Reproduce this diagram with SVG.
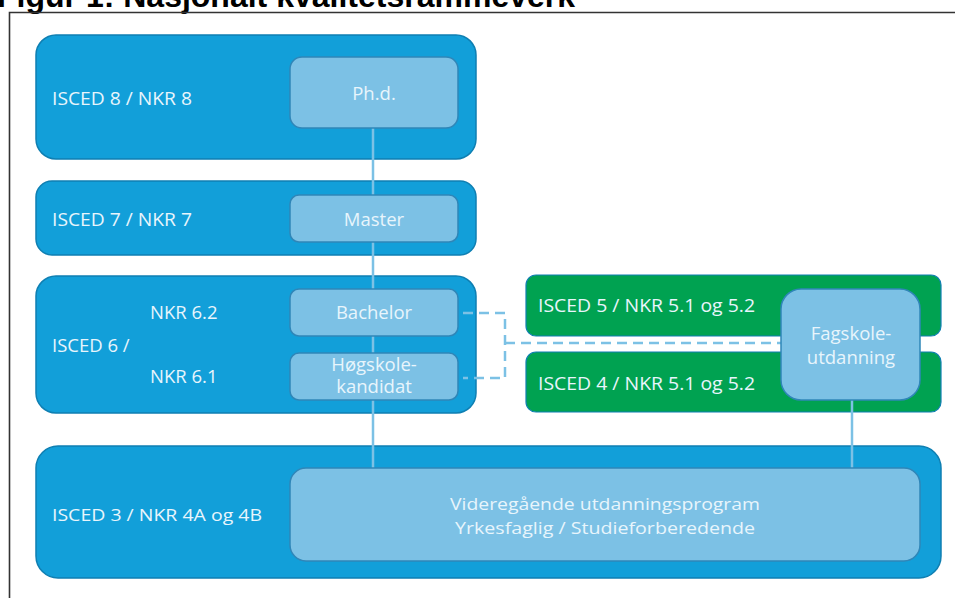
<svg xmlns="http://www.w3.org/2000/svg" width="955" height="598" viewBox="0 0 955 598">
<style>
.outer{fill:#129FD9;stroke:#0F7FB2;stroke-width:1.5}
.green{fill:#00A251;stroke:#0F7FB2;stroke-width:1.2}
.inner{fill:#7CC1E5;stroke:#2F86B8;stroke-width:1.5}
.t{font-family:"Open Sans","Liberation Sans",sans-serif;font-size:18.5px;fill:#E8F5FC}
.s{font-size:17px}
.c{text-anchor:middle}
.conn{stroke:#7CC1E5;stroke-width:2.5;fill:none}
.dash{stroke:#7CC1E5;stroke-width:2.5;fill:none;stroke-dasharray:10 6}
</style>
<text x="-3" y="7" font-family="Liberation Sans, Arial, sans-serif" font-weight="bold" font-size="32" fill="#000">Figur 1: Nasjonalt kvalitetsrammeverk</text>
<path d="M9.5 598 V12.5 H955" fill="none" stroke="#333" stroke-width="1.6"/>
<g id="isced8">
<rect class="outer" x="36" y="35" width="440" height="124" rx="20"/>
<text class="t" x="52" y="105" textLength="140" lengthAdjust="spacingAndGlyphs">ISCED 8 / NKR 8</text>
</g>
<g id="isced7">
<rect class="outer" x="36" y="181" width="440" height="74" rx="16"/>
<text class="t" x="52" y="226" textLength="140" lengthAdjust="spacingAndGlyphs">ISCED 7 / NKR 7</text>
</g>
<g id="isced6">
<rect class="outer" x="36" y="276" width="440" height="137" rx="20"/>
<text class="t" x="150" y="319">NKR 6.2</text>
<text class="t" x="52" y="352">ISCED 6 /</text>
<text class="t" x="150" y="383">NKR 6.1</text>
</g>
<g id="isced5">
<rect class="green" x="526" y="275" width="415" height="61" rx="10"/>
<text class="t" x="538" y="312" textLength="217" lengthAdjust="spacingAndGlyphs">ISCED 5 / NKR 5.1 og 5.2</text>
</g>
<g id="isced4">
<rect class="green" x="526" y="352" width="415" height="60" rx="10"/>
<text class="t" x="538" y="390" textLength="217" lengthAdjust="spacingAndGlyphs">ISCED 4 / NKR 5.1 og 5.2</text>
</g>
<g id="isced3">
<rect class="outer" x="36" y="446" width="905" height="132" rx="22"/>
<text class="t s" x="52" y="521" textLength="210" lengthAdjust="spacingAndGlyphs">ISCED 3 / NKR 4A og 4B</text>
</g>
<g id="connectors">
<line class="conn" x1="373" y1="128" x2="373" y2="468"/>
<line class="conn" x1="852" y1="400" x2="852" y2="468"/>
<path class="dash" d="M463 313 H505 V378 H463"/>
<path class="dash" d="M505 343 H781"/>
</g>
<g id="phd">
<rect class="inner" x="290" y="57" width="168" height="71" rx="12"/>
<text class="t c" x="374" y="100">Ph.d.</text>
</g>
<g id="master">
<rect class="inner" x="290" y="195" width="168" height="47" rx="9"/>
<text class="t c" x="374" y="226">Master</text>
</g>
<g id="bachelor">
<rect class="inner" x="290" y="289" width="168" height="47" rx="9"/>
<text class="t c" x="374" y="319">Bachelor</text>
</g>
<g id="hogskolekandidat">
<rect class="inner" x="290" y="353" width="168" height="47" rx="9"/>
<text class="t c" x="374" y="371" font-size="18">Høgskole-</text>
<text class="t c" x="374" y="393" font-size="18">kandidat</text>
</g>
<g id="fagskole">
<rect class="inner" x="781" y="289" width="139" height="111" rx="20"/>
<text class="t c" x="851" y="340">Fagskole-</text>
<text class="t c" x="851" y="364">utdanning</text>
</g>
<g id="vgs">
<rect class="inner" x="290" y="468" width="630" height="93" rx="16"/>
<text class="t s c" x="605" y="510" textLength="310" lengthAdjust="spacingAndGlyphs">Videregående utdanningsprogram</text>
<text class="t s c" x="605" y="534" textLength="300" lengthAdjust="spacingAndGlyphs">Yrkesfaglig / Studieforberedende</text>
</g>
</svg>
